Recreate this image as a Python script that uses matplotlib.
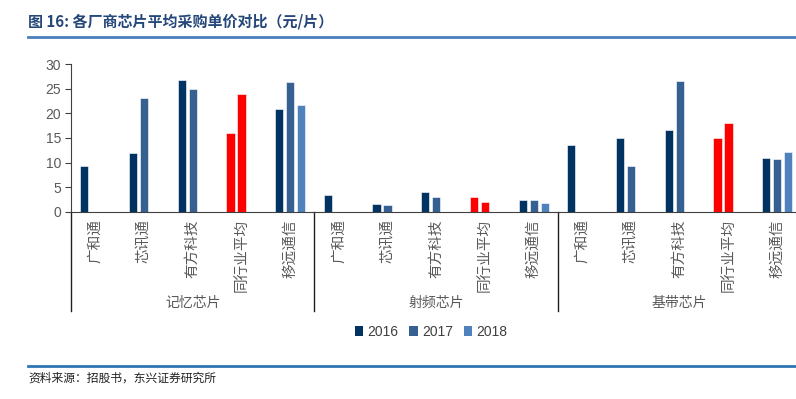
import numpy as np
import matplotlib
matplotlib.use('Agg')
from matplotlib import pyplot as plt
from matplotlib.patches import Patch
import matplotlib.transforms as mtransforms

plt.rcParams['font.family'] = ['Noto Sans CJK SC', 'DejaVu Sans']

companies = ['广和通', '芯讯通', '有方科技', '同行业平均', '移远通信']
groups = ['记忆芯片', '射频芯片', '基带芯片']
years = ['2016', '2017', '2018']
nan = np.nan
v2016 = [9.2, 11.9, 26.9, 16.0, 21.0, 3.5, 1.6, 4.0, 3.0, 2.3, 13.6, 15.1, 16.6, 15.1, 10.9]
v2017 = [nan, 23.2, 24.9, 24.0, 26.4, nan, 1.3, 3.0, 2.0, 2.3, nan, 9.2, 26.6, 18.0, 10.7]
v2018 = [nan, nan, nan, nan, 21.7, nan, nan, nan, nan, 1.8, nan, nan, nan, nan, 12.2]

year_colors = ['#003262', '#366092', '#4F81BD']
avg_color = '#FF0000'
gray = '#595959'


def main():
    fig = plt.figure(figsize=(7.96, 3.99), dpi=100)
    ax = fig.add_axes([0.0892, 0.4694, 0.9177, 0.3695])

    n = len(groups) * len(companies)
    x = np.arange(n)
    step = 0.226
    width = 0.17
    series = [v2016, v2017, v2018]
    for i, vals in enumerate(series):
        cols = []
        for k in range(n):
            if companies[k % len(companies)] == '同行业平均':
                cols.append(avg_color)
            else:
                cols.append(year_colors[i])
        ax.bar(x + (i - 1) * step, vals, width=width, color=cols,
               edgecolor='white', linewidth=0.4)

    ax.set_xlim(-0.5, n - 0.5)
    ax.set_ylim(0, 30)
    ax.set_yticks(range(0, 31, 5))
    ax.tick_params(axis='y', direction='out', length=4, color='#404040',
                   labelsize=10, labelcolor=gray, pad=3)
    for lab in ax.get_yticklabels():
        lab.set_fontfamily('Liberation Sans')
    ax.set_xticks([])
    ax.spines['top'].set_visible(False)
    ax.spines['right'].set_visible(False)
    ax.spines['left'].set_color('#404040')
    ax.spines['bottom'].set_color('#404040')

    trans = mtransforms.blended_transform_factory(ax.transData, ax.transAxes)
    for k in range(n):
        ax.text(x[k], -0.05, companies[k % len(companies)], rotation=90,
                ha='center', va='top', fontsize=10.5, color=gray,
                transform=trans)
    for g in range(len(groups)):
        ax.text(g * 5 + 2, -0.62, groups[g], ha='center', va='center',
                fontsize=10, color=gray, transform=trans)
    for b in range(len(groups) + 1):
        ax.plot([b * 5 - 0.5, b * 5 - 0.5], [0, -0.675], color='#202020',
                lw=1, transform=trans, clip_on=False)

    handles = [Patch(facecolor=c, label=y) for c, y in zip(year_colors, years)]
    leg = fig.legend(handles=handles, loc='center', bbox_to_anchor=(0.5415, 0.168),
                     ncol=3, frameon=False, fontsize=10, handlelength=0.6,
                     handleheight=0.8, handletextpad=0.3, columnspacing=0.8)
    for t in leg.get_texts():
        t.set_color('#404040')
        t.set_fontfamily('Liberation Sans')

    fig.text(0.0352, 0.945, '图 16: 各厂商芯片平均采购单价对比（元/片）',
             fontsize=10.8, fontweight='bold', color='#25477A',
             ha='left', va='center')
    fig.add_artist(plt.Line2D([0.0352, 1.0], [0.908, 0.908], color='#4A7EBB',
                              lw=2))
    fig.add_artist(plt.Line2D([0.0352, 1.0], [0.0835, 0.0835], color='#2E75B6',
                              lw=2))
    fig.text(0.0352, 0.0526, '资料来源：招股书，东兴证券研究所', fontsize=8.5,
             fontstyle='italic', color='#202020', ha='left', va='center')

    fig.savefig('out.png', dpi=100)


main()
